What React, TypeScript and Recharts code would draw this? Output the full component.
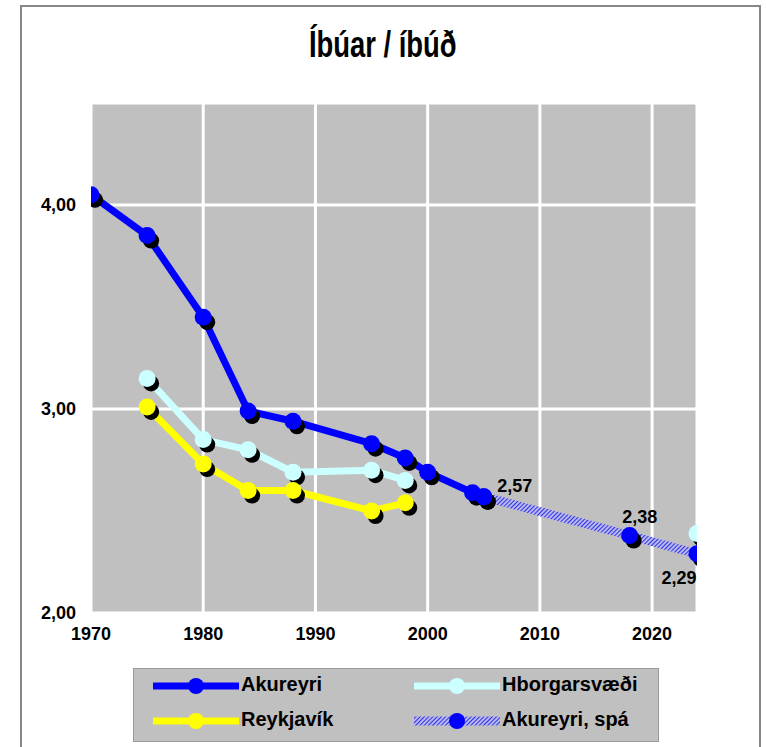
import React from "react";
import { LineChart, Line, XAxis, YAxis, CartesianGrid, LabelList } from "recharts";

// ── Data ───────────────────────────────────────────────────────────────────────
const akYears = [1970, 1975, 1980, 1984, 1988, 1995, 1998, 2000, 2004, 2005];
const akVals = [4.05, 3.85, 3.45, 2.99, 2.94, 2.83, 2.76, 2.69, 2.59, 2.57];

const hbYears = [1975, 1980, 1984, 1988, 1995, 1998, 2024];
const hbVals = [3.15, 2.85, 2.8, 2.69, 2.7, 2.65, 2.39];

const rvYears = [1975, 1980, 1984, 1988, 1995, 1998];
const rvVals = [3.01, 2.73, 2.6, 2.6, 2.5, 2.54];

const spaYears = [2005, 2018, 2024];
const spaVals = [2.57, 2.38, 2.29];

const xTicks = [1970, 1980, 1990, 2000, 2010, 2020];
const yTicks = [2, 3, 4];

const toRows = (ys: number[], vs: number[]) => ys.map((year, i) => ({ year, v: vs[i] }));
const akData = toRows(akYears, akVals);
const hbData = toRows(hbYears, hbVals);
const rvData = toRows(rvYears, rvVals);
const spaData = toRows(spaYears, spaVals);

// ── Style ──────────────────────────────────────────────────────────────────────
const BLUE = "#0000ff";
const CYAN = "#ccffff";
const YELLOW = "#ffff00";
const GRAY = "#c0c0c0";
const FONT = "'Liberation Sans', Arial, sans-serif";

const fmtNum = (v: number) => v.toFixed(2).replace(".", ",");

const shadowDot = (props: any) => {
  const { cx, cy, index } = props;
  if (cx == null || cy == null) return <g key={index} />;
  return <circle key={index} cx={cx + 4} cy={cy + 5} r={8} fill="#000" />;
};

const colorDot = (color: string) => (props: any) => {
  const { cx, cy, index } = props;
  if (cx == null || cy == null) return <g key={index} />;
  return <circle key={index} cx={cx} cy={cy} r={8.5} fill={color} />;
};

// label offsets for the forecast values
const spaLabel = (props: any) => {
  const { x, y, value, index } = props;
  const off = [
    { dx: 31, dy: -9 },
    { dx: 10, dy: -17 },
    { dx: -18, dy: 25 },
  ][index];
  return (
    <text key={index} x={x + off.dx} y={y + off.dy} textAnchor="middle" dominantBaseline="middle"
      style={{ fontSize: 18, fontWeight: 700, fill: "#000", fontFamily: FONT }}>
      {fmtNum(value)}
    </text>
  );
};

function LegendBox() {
  const row = (y: number, x0: number, color: string, label: string, hatch = false) => (
    <g>
      <line x1={x0} y1={y} x2={x0 + 86} y2={y} stroke={hatch ? "url(#hatchLeg)" : color} strokeWidth={hatch ? 9 : 7} />
      <circle cx={x0 + 43} cy={y} r={8} fill={color} />
      <text x={x0 + 88} y={y} dominantBaseline="middle" style={{ fontSize: 20, fontWeight: 700, fontFamily: FONT }}>{label}</text>
    </g>
  );
  return (
    <svg width={526} height={74} style={{ position: "absolute", left: 133, top: 668 }}>
      <defs>
        <pattern id="hatchLeg" width={3} height={3} patternUnits="userSpaceOnUse" patternTransform="rotate(45)">
          <rect width={3} height={3} fill="#b8b8f0" />
          <line x1={0} y1={0} x2={0} y2={3} stroke="#3030e0" strokeWidth={2} />
        </pattern>
      </defs>
      <rect x={0.5} y={0.5} width={525} height={73} fill={GRAY} stroke="#999" />
      {row(18, 20, BLUE, "Akureyri")}
      {row(53, 20, YELLOW, "Reykjavík")}
      {row(18, 281, CYAN, "Hborgarsvæði")}
      {row(53, 281, BLUE, "Akureyri, spá", true)}
    </svg>
  );
}

export default function App() {
  return (
    <div style={{ position: "absolute", left: 0, top: 0, width: 766, height: 747, overflow: "hidden", background: "#fff", fontFamily: FONT }}>
      <div style={{ position: "absolute", left: 20, top: 5, width: 737, height: 780, border: "2px solid #888" }} />
      <div style={{ position: "absolute", left: 0, width: 766, top: 24, textAlign: "center", lineHeight: "42px", height: 42 }}>
        <span style={{ display: "inline-block", transform: "scaleX(0.74)", fontSize: 37, fontWeight: 700, color: "#000" }}>
          Íbúar / íbúð
        </span>
      </div>
      <div style={{ position: "absolute", left: 0, top: 0 }}>
        <LineChart width={766} height={747} margin={{ top: 103, right: 69, left: 0, bottom: 104 }}>
          <defs>
            <pattern id="hatch" width={3} height={3} patternUnits="userSpaceOnUse" patternTransform="rotate(45)">
              <rect width={3} height={3} fill="#b8b8f0" />
              <line x1={0} y1={0} x2={0} y2={3} stroke="#3030e0" strokeWidth={2} />
            </pattern>
          </defs>
          <CartesianGrid stroke="#fff" strokeWidth={3} fill={GRAY} fillOpacity={1} />
          <XAxis type="number" dataKey="year" domain={[1970, 2024]} ticks={xTicks} allowDataOverflow
            axisLine={false} tickLine={false} tickMargin={8} height={30}
            tick={{ fontSize: 18, fontWeight: 700, fill: "#000", fontFamily: FONT }} />
          <YAxis type="number" domain={[2, 4.5]} ticks={yTicks} tickFormatter={fmtNum} width={91}
            axisLine={false} tickLine={false} tickMargin={9}
            tick={{ fontSize: 18, fontWeight: 700, fill: "#000", fontFamily: FONT }} />

          {/* shadows under everything */}
          <Line data={rvData} dataKey="v" stroke="none" dot={shadowDot} activeDot={false} isAnimationActive={false} />
          <Line data={hbData} dataKey="v" stroke="none" dot={shadowDot} activeDot={false} isAnimationActive={false} />
          <Line data={spaData} dataKey="v" stroke="none" dot={shadowDot} activeDot={false} isAnimationActive={false} />
          <Line data={akData} dataKey="v" stroke="none" dot={shadowDot} activeDot={false} isAnimationActive={false} />

          <Line data={rvData} dataKey="v" stroke={YELLOW} strokeWidth={7} dot={colorDot(YELLOW)} activeDot={false} isAnimationActive={false} />
          <Line data={hbData.slice(0, 6)} dataKey="v" stroke={CYAN} strokeWidth={7} dot={colorDot(CYAN)} activeDot={false} isAnimationActive={false} />
          <Line data={hbData.slice(6)} dataKey="v" stroke="none" dot={colorDot(CYAN)} activeDot={false} isAnimationActive={false} />
          <Line data={spaData} dataKey="v" stroke="url(#hatch)" strokeWidth={9} dot={colorDot(BLUE)} activeDot={false} isAnimationActive={false}>
            <LabelList dataKey="v" content={spaLabel} />
          </Line>
          <Line data={akData} dataKey="v" stroke={BLUE} strokeWidth={7} dot={colorDot(BLUE)} activeDot={false} isAnimationActive={false} />
        </LineChart>
      </div>
      <LegendBox />
    </div>
  );
}
